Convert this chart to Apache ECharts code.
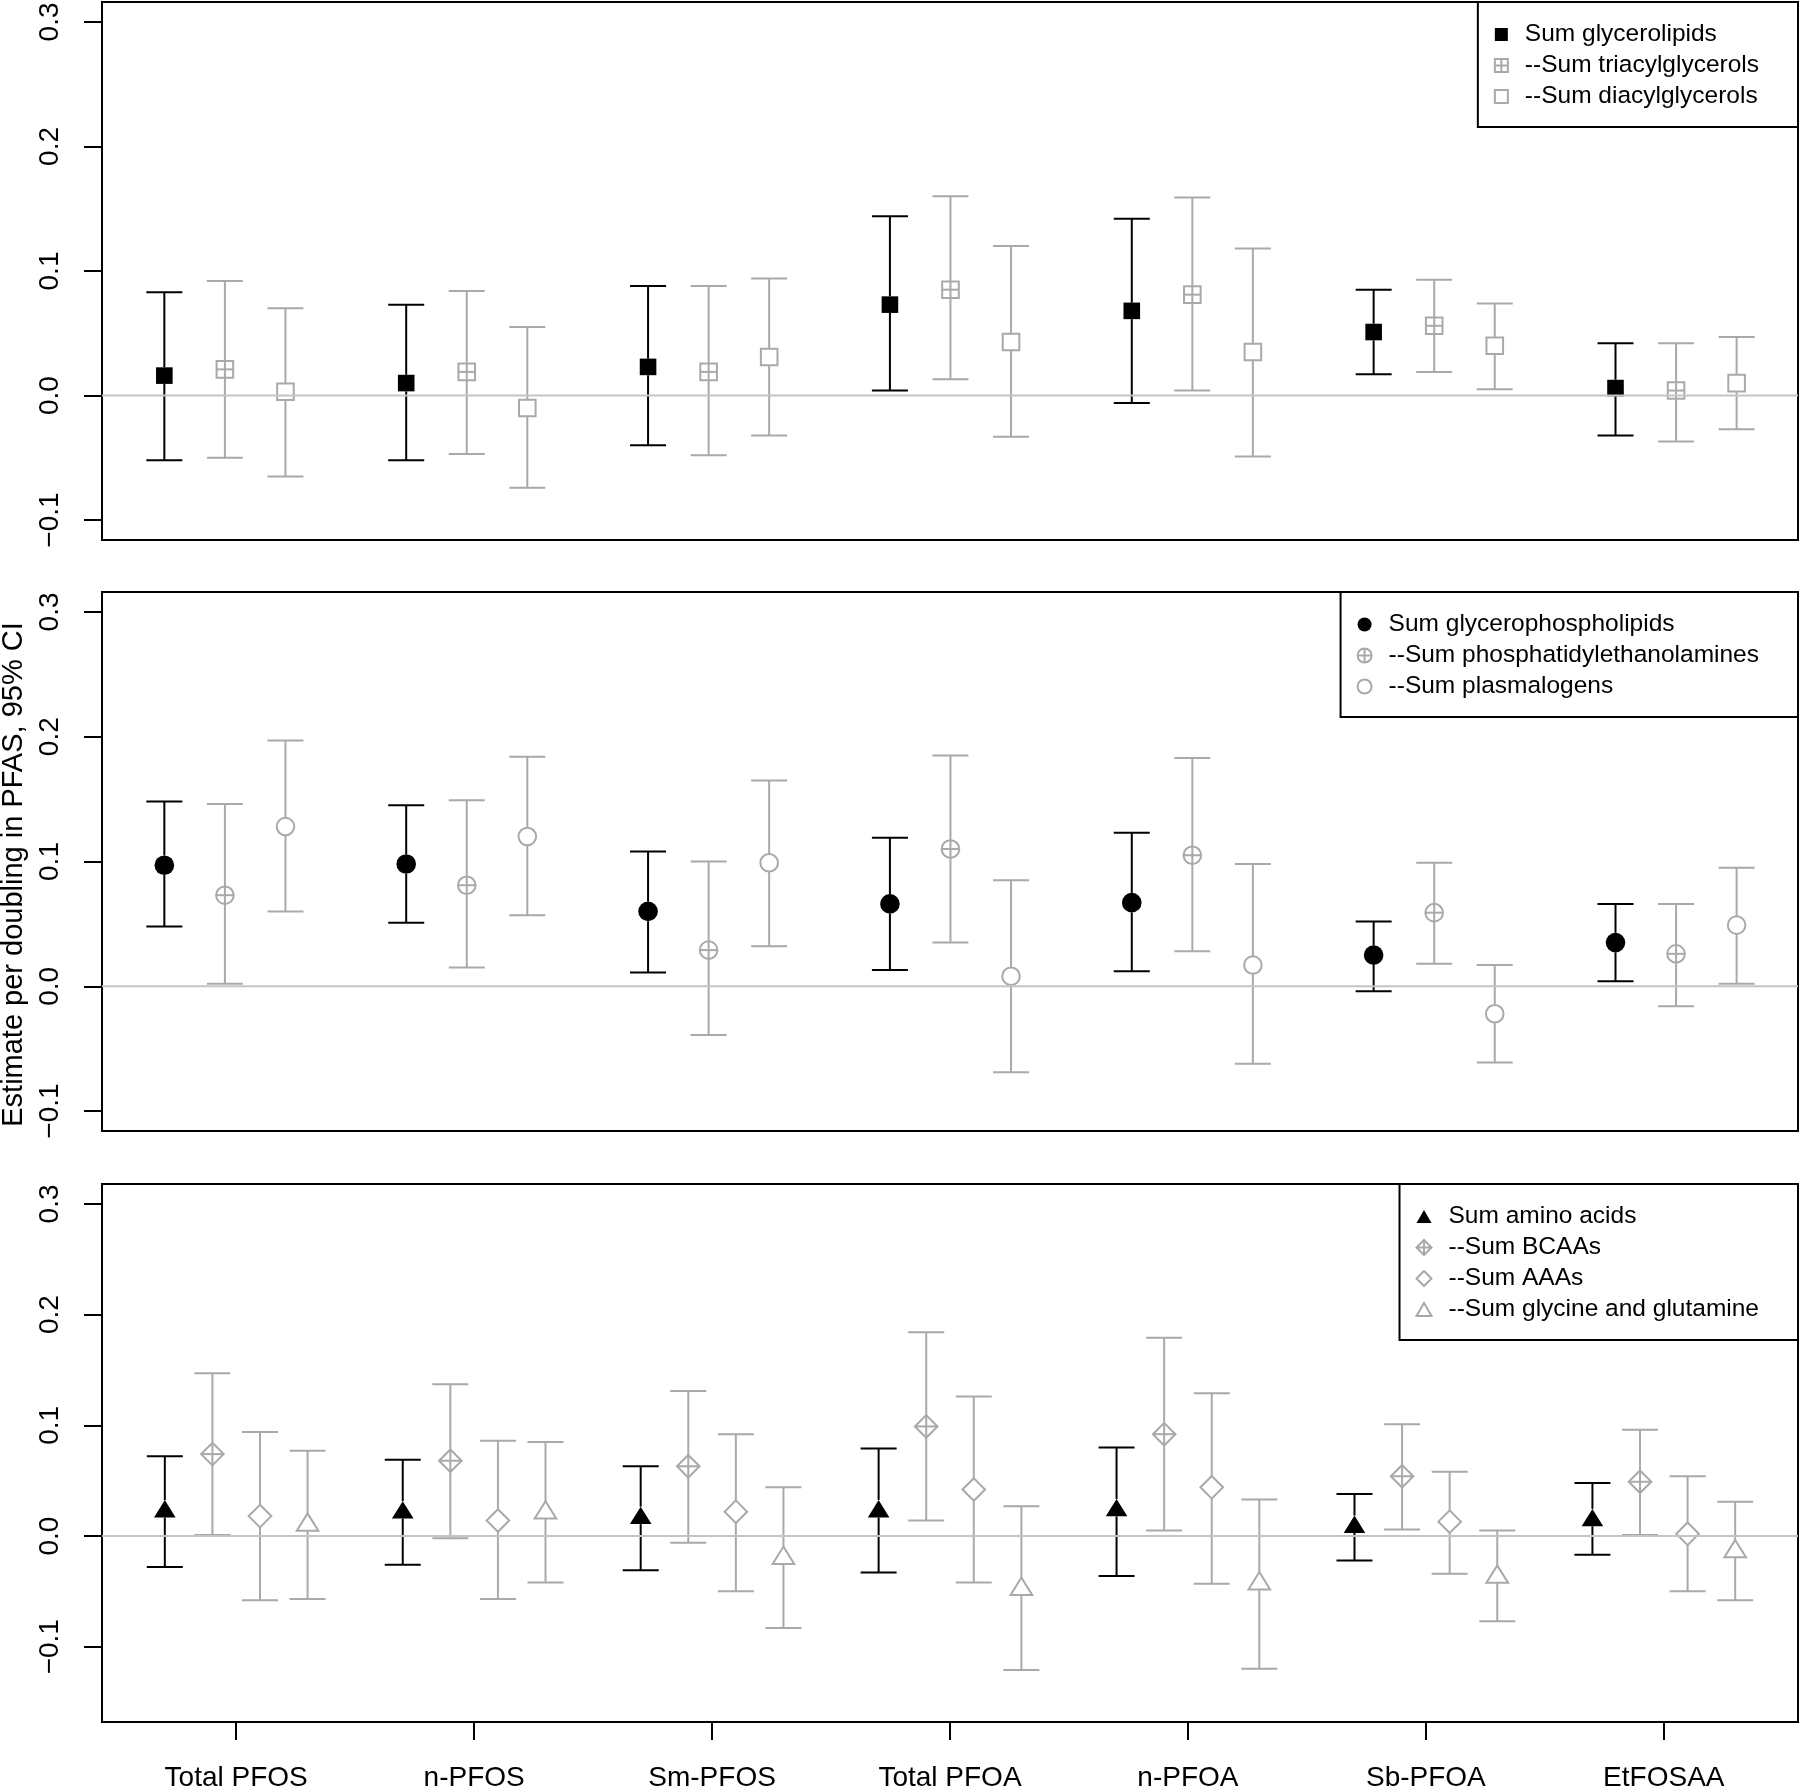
<!DOCTYPE html>
<html><head><meta charset="utf-8">
<script src="https://cdn.jsdelivr.net/npm/echarts@6/dist/echarts.min.js"></script>
<style>html,body{margin:0;padding:0;background:#fff}#c{width:1800px;height:1787px}</style>
</head><body><div id="c"></div>
<script>
// ---------------- DATA ----------------
const categories = ['Total PFOS', 'n-PFOS', 'Sm-PFOS', 'Total PFOA', 'n-PFOA', 'Sb-PFOA', 'EtFOSAA'];
const yTicks = [-0.1, 0.0, 0.1, 0.2, 0.3];

// Panel 1: glycerolipids
const glycerolipidsEst = [0.016, 0.010, 0.023, 0.073, 0.068, 0.051, 0.006];
const glycerolipidsLo  = [-0.052, -0.052, -0.040, 0.004, -0.006, 0.017, -0.032];
const glycerolipidsHi  = [0.083, 0.073, 0.088, 0.144, 0.142, 0.085, 0.042];
const triacylEst = [0.021, 0.019, 0.019, 0.085, 0.081, 0.056, 0.004];
const triacylLo  = [-0.050, -0.047, -0.048, 0.013, 0.004, 0.019, -0.037];
const triacylHi  = [0.092, 0.084, 0.088, 0.160, 0.159, 0.093, 0.042];
const diacylEst = [0.003, -0.010, 0.031, 0.043, 0.035, 0.040, 0.010];
const diacylLo  = [-0.065, -0.074, -0.032, -0.033, -0.049, 0.005, -0.027];
const diacylHi  = [0.070, 0.055, 0.094, 0.120, 0.118, 0.074, 0.047];

// Panel 2: glycerophospholipids
const gplEst = [0.097, 0.098, 0.060, 0.066, 0.067, 0.025, 0.035];
const gplLo  = [0.048, 0.051, 0.011, 0.013, 0.012, -0.004, 0.004];
const gplHi  = [0.148, 0.145, 0.108, 0.119, 0.123, 0.052, 0.066];
const peEst = [0.073, 0.081, 0.029, 0.110, 0.105, 0.059, 0.026];
const peLo  = [0.002, 0.015, -0.039, 0.035, 0.028, 0.018, -0.016];
const peHi  = [0.146, 0.149, 0.100, 0.185, 0.183, 0.099, 0.066];
const plasEst = [0.128, 0.120, 0.099, 0.008, 0.017, -0.022, 0.049];
const plasLo  = [0.060, 0.057, 0.032, -0.069, -0.062, -0.061, 0.002];
const plasHi  = [0.197, 0.184, 0.165, 0.085, 0.098, 0.017, 0.095];

// Panel 3: amino acids
const aminoEst = [0.022, 0.021, 0.016, 0.022, 0.023, 0.008, 0.014];
const aminoLo  = [-0.028, -0.026, -0.031, -0.033, -0.036, -0.022, -0.017];
const aminoHi  = [0.072, 0.069, 0.063, 0.079, 0.080, 0.038, 0.048];
const bcaaEst = [0.074, 0.068, 0.063, 0.099, 0.092, 0.054, 0.049];
const bcaaLo  = [0.001, -0.002, -0.006, 0.014, 0.005, 0.006, 0.001];
const bcaaHi  = [0.147, 0.137, 0.131, 0.184, 0.179, 0.101, 0.096];
const aaaEst = [0.018, 0.014, 0.022, 0.042, 0.044, 0.013, 0.002];
const aaaLo  = [-0.058, -0.057, -0.050, -0.042, -0.043, -0.034, -0.050];
const aaaHi  = [0.094, 0.086, 0.092, 0.126, 0.129, 0.058, 0.054];
const glyEst = [0.010, 0.021, -0.020, -0.048, -0.043, -0.037, -0.014];
const glyLo  = [-0.057, -0.042, -0.083, -0.121, -0.120, -0.077, -0.058];
const glyHi  = [0.077, 0.085, 0.044, 0.027, 0.033, 0.005, 0.031];

// ---------------- LAYOUT / STYLE ----------------
const FONT = 'Liberation Sans';
const GRAY = '#a9a9a9';
const ZERO_GRAY = '#c4c4c4';
const LW = 2;
const CAP = 18;
const AXIS_FS = 28;
const X_MIN = 0.436, X_MAX = 7.564;
const YR12 = [-0.116, 0.316];
const YR3 = [-0.168, 0.318];
// position rule for panels with 3 series and with 4 series
const pos3 = (i, k) => 0.698 + i * 1.0165 + k * 0.2545;
const pos4 = (i, k) => (i + 1) - 0.3 + k * 0.2;

function buildData(est, lo, hi, posFn, k) {
  return est.map((v, i) => [posFn(i, k), v, lo[i], hi[i]]);
}

function plusLines(x, y, h, color) {
  const st = { stroke: color, lineWidth: LW, fill: null };
  return [
    { type: 'line', shape: { x1: x - h, y1: y, x2: x + h, y2: y }, style: st },
    { type: 'line', shape: { x1: x, y1: y - h, x2: x, y2: y + h }, style: st }
  ];
}
const MARKERS = {
  sqFill: { top: 8.3, bot: 8.3, draw: (x, y, c) => [{ type: 'rect', shape: { x: x - 8.3, y: y - 8.3, width: 16.6, height: 16.6 }, style: { fill: c } }] },
  sqPlus: { top: 8.3, bot: 8.3, draw: (x, y, c) => [{ type: 'rect', shape: { x: x - 8.3, y: y - 8.3, width: 16.6, height: 16.6 }, style: { fill: null, stroke: c, lineWidth: LW } }].concat(plusLines(x, y, 8.3, c)) },
  sqOpen: { top: 8.3, bot: 8.3, draw: (x, y, c) => [{ type: 'rect', shape: { x: x - 8.3, y: y - 8.3, width: 16.6, height: 16.6 }, style: { fill: null, stroke: c, lineWidth: LW } }] },
  ciFill: { top: 9.8, bot: 9.8, draw: (x, y, c) => [{ type: 'circle', shape: { cx: x, cy: y, r: 9.8 }, style: { fill: c } }] },
  ciPlus: { top: 8.8, bot: 8.8, draw: (x, y, c) => [{ type: 'circle', shape: { cx: x, cy: y, r: 8.8 }, style: { fill: null, stroke: c, lineWidth: LW } }].concat(plusLines(x, y, 8.8, c)) },
  ciOpen: { top: 8.8, bot: 8.8, draw: (x, y, c) => [{ type: 'circle', shape: { cx: x, cy: y, r: 8.8 }, style: { fill: null, stroke: c, lineWidth: LW } }] },
  triFill: { top: 11.6, bot: 5.8, draw: (x, y, c) => [{ type: 'polygon', shape: { points: [[x, y - 11.6], [x + 10.8, y + 5.8], [x - 10.8, y + 5.8]] }, style: { fill: c } }] },
  triOpen: { top: 11.6, bot: 5.8, draw: (x, y, c) => [{ type: 'polygon', shape: { points: [[x, y - 11.6], [x + 10.8, y + 5.8], [x - 10.8, y + 5.8]] }, style: { fill: null, stroke: c, lineWidth: LW } }] },
  diPlus: { top: 11.3, bot: 11.3, draw: (x, y, c) => [{ type: 'polygon', shape: { points: [[x, y - 11.3], [x + 11.3, y], [x, y + 11.3], [x - 11.3, y]] }, style: { fill: null, stroke: c, lineWidth: LW } }].concat(plusLines(x, y, 11.3, c)) },
  diOpen: { top: 11.3, bot: 11.3, draw: (x, y, c) => [{ type: 'polygon', shape: { points: [[x, y - 11.3], [x + 11.3, y], [x, y + 11.3], [x - 11.3, y]] }, style: { fill: null, stroke: c, lineWidth: LW } }] }
};

function makeRender(marker, color) {
  const m = MARKERS[marker];
  return function (params, api) {
    const x = api.value(0);
    const p = api.coord([x, api.value(1)]);
    const pl = api.coord([x, api.value(2)]);
    const ph = api.coord([x, api.value(3)]);
    const st = { stroke: color, lineWidth: LW, lineCap: 'butt' };
    const ch = [];
    if (p[1] - m.top > ph[1]) ch.push({ type: 'line', shape: { x1: p[0], y1: ph[1], x2: p[0], y2: p[1] - m.top }, style: st });
    if (pl[1] > p[1] + m.bot) ch.push({ type: 'line', shape: { x1: p[0], y1: p[1] + m.bot, x2: p[0], y2: pl[1] }, style: st });
    ch.push({ type: 'line', shape: { x1: p[0] - CAP, y1: ph[1], x2: p[0] + CAP, y2: ph[1] }, style: st });
    ch.push({ type: 'line', shape: { x1: p[0] - CAP, y1: pl[1], x2: p[0] + CAP, y2: pl[1] }, style: st });
    return { type: 'group', children: ch.concat(m.draw(p[0], p[1], color)) };
  };
}

function ciSeries(name, gi, est, lo, hi, posFn, k, marker, color) {
  return {
    name, type: 'custom', xAxisIndex: gi, yAxisIndex: gi, z: 2, silent: true,
    itemStyle: { color },
    renderItem: makeRender(marker, color),
    encode: { x: 0, y: [1, 2, 3] },
    data: buildData(est, lo, hi, posFn, k)
  };
}
function zeroLine(gi) {
  return {
    type: 'line', xAxisIndex: gi, yAxisIndex: gi, z: 5, silent: true, symbol: 'none',
    lineStyle: { color: ZERO_GRAY, width: 2 }, data: [[X_MIN, 0], [X_MAX, 0]]
  };
}

const P_SQPLUS = 'path://M0,0H10V10H0Z M5,0V10 M0,5H10';
const P_CIPLUS = 'path://M10,5A5,5,0,1,1,0,5A5,5,0,1,1,10,5Z M5,0V10 M0,5H10';
const P_DIPLUS = 'path://M5,0L10,5L5,10L0,5Z M5,0V10 M0,5H10';
const P_DIOPEN = 'path://M5,0L10,5L5,10L0,5Z';
const P_TRI = 'path://M5,0L10,8.66L0,8.66Z';
const filledIcon = { color: '#000', borderWidth: 0 };
const openIcon = { color: 'rgba(0,0,0,0)', borderColor: GRAY, borderWidth: 2 };

function legendAt(top, items, iconSize) {
  return {
    orient: 'vertical', right: 2, top, selectedMode: false,
    backgroundColor: '#fff', borderColor: '#000', borderWidth: 2,
    padding: [20, 39, 18, 16], itemGap: 6, itemWidth: iconSize, itemHeight: iconSize,
    textStyle: { fontFamily: FONT, fontSize: 24.5, color: '#000', lineHeight: 25, padding: [0, 0, 0, 12] },
    data: items
  };
}

const grids = [
  { left: 102, right: 2, top: 2, height: 538 },
  { left: 102, right: 2, top: 592, height: 539 },
  { left: 102, right: 2, top: 1184, height: 538 }
].map(g => Object.assign(g, { show: true, borderColor: '#000', borderWidth: 2, backgroundColor: 'transparent', containLabel: false, outerBoundsMode: 'none' }));

const xTickVals = categories.map((c, i) => i + 1);
const xAxes = [0, 1, 2].map(i => ({
  type: 'value', gridIndex: i, min: X_MIN, max: X_MAX, show: i === 2, position: 'bottom',
  axisLine: { show: false, onZero: false }, splitLine: { show: false },
  axisTick: { show: true, customValues: xTickVals, length: 18, lineStyle: { color: '#000', width: 2 } },
  axisLabel: { customValues: xTickVals, formatter: v => categories[Math.round(v) - 1], fontFamily: FONT, fontSize: AXIS_FS, color: '#000', margin: 42 }
}));
const fmtY = v => (v < -1e-9 ? '\u2212' : '') + Math.abs(v).toFixed(1);
const yAxes = [YR12, YR12, YR3].map((r, i) => ({
  type: 'value', gridIndex: i, min: r[0], max: r[1], position: 'left',
  axisLine: { show: false, onZero: false }, splitLine: { show: false },
  axisTick: { show: true, customValues: yTicks, length: 18, lineStyle: { color: '#000', width: 2 } },
  axisLabel: { customValues: yTicks, formatter: fmtY, rotate: 90, fontFamily: FONT, fontSize: AXIS_FS, color: '#000', margin: 38 },
  name: i === 1 ? 'Estimate per doubling in PFAS, 95% CI' : '',
  nameLocation: 'middle', nameGap: 72,
  nameTextStyle: { fontFamily: FONT, fontSize: 29, color: '#000', padding: [0, 26, 0, 0] }
}));

const option = {
  animation: false,
  backgroundColor: '#fff',
  grid: grids, xAxis: xAxes, yAxis: yAxes,
  legend: [
    legendAt(2, [
      { name: 'Sum glycerolipids', icon: 'rect', itemStyle: filledIcon },
      { name: '--Sum triacylglycerols', icon: P_SQPLUS, itemStyle: openIcon },
      { name: '--Sum diacylglycerols', icon: 'rect', itemStyle: openIcon }
    ], 13),
    legendAt(592, [
      { name: 'Sum glycerophospholipids', icon: 'circle', itemStyle: filledIcon },
      { name: '--Sum phosphatidylethanolamines', icon: P_CIPLUS, itemStyle: openIcon },
      { name: '--Sum plasmalogens', icon: 'circle', itemStyle: openIcon }
    ], 14),
    legendAt(1184, [
      { name: 'Sum amino acids', icon: P_TRI, itemStyle: filledIcon },
      { name: '--Sum BCAAs', icon: P_DIPLUS, itemStyle: openIcon },
      { name: '--Sum AAAs', icon: P_DIOPEN, itemStyle: openIcon },
      { name: '--Sum glycine and glutamine', icon: P_TRI, itemStyle: openIcon }
    ], 15)
  ],
  series: [
    ciSeries('Sum glycerolipids', 0, glycerolipidsEst, glycerolipidsLo, glycerolipidsHi, pos3, 0, 'sqFill', '#000'),
    ciSeries('--Sum triacylglycerols', 0, triacylEst, triacylLo, triacylHi, pos3, 1, 'sqPlus', GRAY),
    ciSeries('--Sum diacylglycerols', 0, diacylEst, diacylLo, diacylHi, pos3, 2, 'sqOpen', GRAY),
    ciSeries('Sum glycerophospholipids', 1, gplEst, gplLo, gplHi, pos3, 0, 'ciFill', '#000'),
    ciSeries('--Sum phosphatidylethanolamines', 1, peEst, peLo, peHi, pos3, 1, 'ciPlus', GRAY),
    ciSeries('--Sum plasmalogens', 1, plasEst, plasLo, plasHi, pos3, 2, 'ciOpen', GRAY),
    ciSeries('Sum amino acids', 2, aminoEst, aminoLo, aminoHi, pos4, 0, 'triFill', '#000'),
    ciSeries('--Sum BCAAs', 2, bcaaEst, bcaaLo, bcaaHi, pos4, 1, 'diPlus', GRAY),
    ciSeries('--Sum AAAs', 2, aaaEst, aaaLo, aaaHi, pos4, 2, 'diOpen', GRAY),
    ciSeries('--Sum glycine and glutamine', 2, glyEst, glyLo, glyHi, pos4, 3, 'triOpen', GRAY),
    zeroLine(0), zeroLine(1), zeroLine(2)
  ]
};
const chart = echarts.init(document.getElementById('c'), null, { renderer: 'canvas' });
chart.setOption(option);
</script></body></html>
